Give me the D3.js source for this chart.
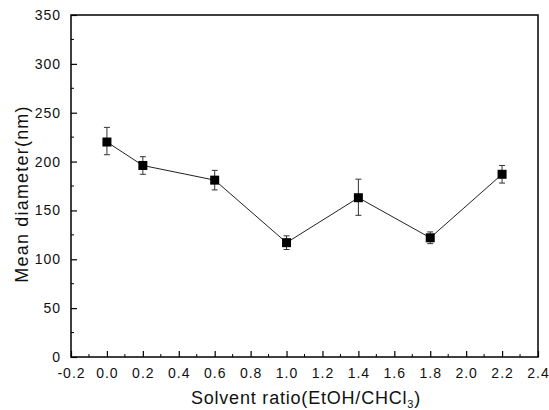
<!DOCTYPE html>
<html lang="en">
<head>
<meta charset="utf-8">
<title>Mean diameter vs solvent ratio</title>
<style>
  body { margin: 0; background: #fff; }
  svg text { font-family: "Liberation Sans", Arial, sans-serif; fill: #111; }
</style>
<script src="https://d3js.org/d3.v7.min.js"></script>
</head>
<body>
<svg id="chart" width="549" height="410"></svg>
<script>
// values
var ratios = [0.0, 0.2, 0.6, 1.0, 1.4, 1.8, 2.2];
var diameters = [220, 196, 181, 117, 163, 122, 187];
var errUpper = [235, 205, 191, 124, 182, 128, 196];
var errLower = [207, 187, 171, 110, 145, 116, 178];
var xTicks = [-0.2, 0.0, 0.2, 0.4, 0.6, 0.8, 1.0, 1.2, 1.4, 1.6, 1.8, 2.0, 2.2, 2.4];
var yTicks = [0, 50, 100, 150, 200, 250, 300, 350];

// plot box (window.top is read-only, so use own names)
var pLeft = 71, pRight = 538, pTop = 15, pBottom = 357;
var svg = d3.select("#chart");

var x = d3.scaleLinear().domain([-0.2, 2.4]).range([pLeft, pRight]);
var y = d3.scaleLinear().domain([0, 350]).range([pBottom, pTop]);

// frame
svg.append("rect")
  .attr("x", pLeft).attr("y", pTop)
  .attr("width", pRight - pLeft).attr("height", pBottom - pTop)
  .attr("fill", "none").attr("stroke", "#000").attr("stroke-width", 1.5);

// minor ticks
var xMinor = d3.range(-0.1, 2.4, 0.2);
var yMinor = d3.range(25, 350, 50);
svg.selectAll(".xminor").data(xMinor).enter().append("line")
  .attr("x1", d => x(d)).attr("x2", d => x(d))
  .attr("y1", pBottom).attr("y2", pBottom - 3)
  .attr("stroke", "#000");
svg.selectAll(".yminor").data(yMinor).enter().append("line")
  .attr("x1", pLeft).attr("x2", pLeft + 3)
  .attr("y1", d => y(d)).attr("y2", d => y(d))
  .attr("stroke", "#000");

// axes with inward ticks
var xAxis = svg.append("g")
  .attr("transform", "translate(0," + pBottom + ")")
  .call(d3.axisBottom(x).tickValues(xTicks).tickSizeInner(-6).tickSizeOuter(0)
    .tickPadding(11).tickFormat(d3.format(".1f")));
var yAxis = svg.append("g")
  .attr("transform", "translate(" + pLeft + ",0)")
  .call(d3.axisLeft(y).tickValues(yTicks).tickSizeInner(-6).tickSizeOuter(0)
    .tickPadding(10).tickFormat(d3.format("d")));
[xAxis, yAxis].forEach(function(g) {
  g.select(".domain").remove();
  g.selectAll(".tick line").attr("stroke", "#000").attr("stroke-width", 1.2);
  g.selectAll(".tick text").attr("font-size", 14).attr("letter-spacing", 1)
    .attr("font-family", "'Liberation Sans', Arial, sans-serif").attr("fill", "#111");
});
xAxis.selectAll(".tick text").text(function(d) { return d < 0 ? "-" + d3.format(".1f")(-d) : d3.format(".1f")(d); });

// connecting line
var line = d3.line().x(d => x(d[0])).y(d => y(d[1]));
svg.append("path")
  .datum(ratios.map((r, i) => [r, diameters[i]]))
  .attr("d", line)
  .attr("fill", "none").attr("stroke", "#222").attr("stroke-width", 1);

// error bars
var eb = svg.selectAll(".err").data(ratios).enter().append("g");
eb.append("line")
  .attr("x1", d => x(d)).attr("x2", d => x(d))
  .attr("y1", (d, i) => y(errUpper[i])).attr("y2", (d, i) => y(errLower[i]))
  .attr("stroke", "#333").attr("stroke-width", 1);
eb.append("line")
  .attr("x1", d => x(d) - 3).attr("x2", d => x(d) + 3)
  .attr("y1", (d, i) => y(errUpper[i])).attr("y2", (d, i) => y(errUpper[i]))
  .attr("stroke", "#333").attr("stroke-width", 1);
eb.append("line")
  .attr("x1", d => x(d) - 3).attr("x2", d => x(d) + 3)
  .attr("y1", (d, i) => y(errLower[i])).attr("y2", (d, i) => y(errLower[i]))
  .attr("stroke", "#333").attr("stroke-width", 1);

// square markers
svg.selectAll(".pt").data(ratios).enter().append("rect")
  .attr("x", d => x(d) - 4.5).attr("y", (d, i) => y(diameters[i]) - 4.5)
  .attr("width", 9).attr("height", 9)
  .attr("fill", "#000");

// axis titles
var xt = svg.append("text")
  .attr("x", 306).attr("y", 404)
  .attr("text-anchor", "middle").attr("font-size", 18).attr("letter-spacing", 0.8);
xt.append("tspan").text("Solvent ratio(EtOH/CHCl");
xt.append("tspan").attr("font-size", 11).attr("dy", 4).text("3");
xt.append("tspan").attr("dy", -4).text(")");

svg.append("text")
  .attr("transform", "translate(28,194) rotate(-90)")
  .attr("text-anchor", "middle").attr("font-size", 18).attr("letter-spacing", 1.2)
  .text("Mean diameter(nm)");
</script>
</body>
</html>
